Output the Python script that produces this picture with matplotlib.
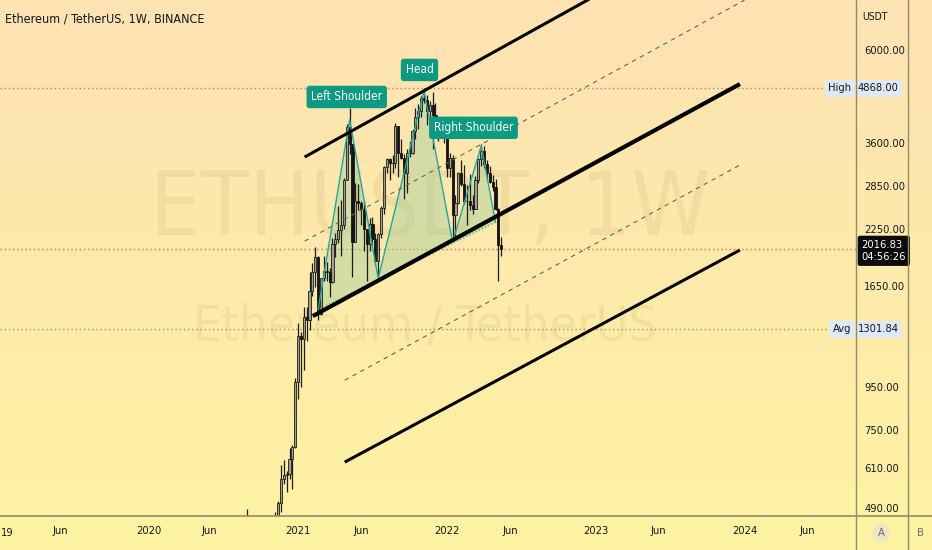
import matplotlib
matplotlib.use("Agg")
import matplotlib.pyplot as plt
import matplotlib.dates as mdates
import numpy as np
import pandas as pd
from matplotlib import font_manager
from matplotlib.lines import Line2D
from matplotlib.ticker import NullLocator
from matplotlib.transforms import blended_transform_factory

# narrow font if one is installed, else Liberation Sans
narrow = None
for f in font_manager.fontManager.ttflist:
    if "condensed" in str(f.stretch).lower() or "narrow" in f.name.lower() or "condensed" in f.name.lower():
        narrow = f
        break
if narrow is not None:
    plt.rcParams["font.family"] = [narrow.name, "DejaVu Sans"]
    plt.rcParams["font.stretch"] = narrow.stretch
    FS = 1.0
else:
    plt.rcParams["font.family"] = ["Liberation Sans", "DejaVu Sans"]
    FS = 0.92

# weekly ETH/USDT candles (week starts on Monday)
first_week = "2020-08-03"
opens = [389, 395, 433, 391, 428, 353, 365, 385, 355, 346, 370, 367, 406, 385, 464, 461, 505, 575, 586, 590, 640, 685,
         975, 1255, 1235, 1390, 1370, 1610, 1780, 1930, 1415, 1725, 1795, 1780, 1690, 2080, 2140, 2240, 2300, 2950,
         3930, 3580, 2100, 2630, 2600, 2510, 2250, 2080, 2320, 2140, 1890, 2190, 2530, 3160, 3310, 3240, 3230, 3950,
         3410, 3330, 3060, 3410, 3420, 3850, 4170, 4290, 4620, 4570, 4290, 4440, 4200, 4130, 3920, 4050,
         3830, 3150, 3330, 2440, 2600, 3070, 2880, 2630, 2620, 2570, 2520, 2950, 3300, 3450, 3220, 3060, 2920,
         2830, 2520, 2060]
highs = [415, 446, 465, 440, 488, 388, 395, 392, 365, 375, 395, 420, 416, 470, 480, 510, 620, 636, 600, 680, 690, 1000,
         1350, 1280, 1470, 1470, 1780, 1870, 2040, 1950, 1660, 1950, 1880, 1820, 2150, 2200, 2550, 2640, 2980, 4000,
         4370, 3590, 2900, 2890, 2620, 2630, 2250, 2400, 2410, 2200, 2200, 2550, 3180, 3330, 3330, 3370, 4030, 3970,
         3680, 3400, 3500, 3650, 3900, 4380, 4460, 4670, 4868, 4700, 4550, 4780, 4480, 4140, 4130, 4130,
         3880, 3410, 3370, 2720, 3080, 3280, 3200, 2860, 3050, 2720, 3020, 3320, 3580, 3550, 3290, 3190,
         3030, 2960, 2530, 2160]
lows = [360, 376, 373, 380, 308, 330, 360, 310, 335, 333, 360, 360, 370, 375, 440, 440, 480, 560, 535, 575, 545, 680,
        890, 950, 1040, 1220, 1300, 1560, 1640, 1370, 1410, 1700, 1700, 1550, 1680, 1930, 2090, 1950, 2250, 2950,
        3400, 1730, 2150, 2500, 2300, 2000, 1700, 2000, 2050, 1850, 1720, 2150, 2450, 3060, 2950, 3060, 3150, 3000,
        3300, 2650, 2740, 3340, 3400, 3680, 3900, 4150, 4500, 3980, 3930, 3500, 3900, 3640, 3890, 3600,
        3000, 3000, 2160, 2170, 2580, 2850, 2580, 2300, 2500, 2450, 2510, 2900, 3180, 3150, 2950, 2900,
        2770, 2500, 1700, 1950]
closes = [395, 433, 391, 428, 353, 365, 385, 355, 346, 370, 367, 406, 385, 464, 461, 505, 575, 586, 590, 640, 685, 975,
          1255, 1235, 1390, 1370, 1610, 1780, 1930, 1415, 1725, 1795, 1780, 1690, 2080, 2140, 2240, 2300, 2950, 3930,
          3580, 2100, 2630, 2600, 2510, 2250, 2080, 2320, 2140, 1890, 2190, 2530, 3160, 3310, 3240, 3230, 3950, 3410,
          3330, 3060, 3410, 3420, 3850, 4170, 4290, 4620, 4570, 4290, 4440, 4200, 4130, 3920, 4050, 3830,
          3150, 3330, 2440, 2600, 3070, 2880, 2630, 2620, 2570, 2520, 2950, 3300, 3450, 3220, 3060, 2920,
          2830, 2520, 2060, 2016.83]

# head and shoulders pattern points
hs_dates = ["2021-02-22", "2021-05-10", "2021-07-19", "2021-11-08", "2022-01-17", "2022-03-28", "2022-05-02"]
hs_prices = [1450, 4100, 1720, 4800, 2100, 3550, 2340]
hs_labels = [("Left Shoulder", "2021-05-03", 4640), ("Head", "2021-10-28", 5380), ("Right Shoulder", "2022-03-09", 3920)]

# channel lines: start date, start price, end date, end price, style, width
channel_lines = [
    ("2021-01-20", 3341, "2024-01-01", 12690, "solid", 2.2),
    ("2021-01-20", 2110, "2024-01-01", 7880, "dash", 0.8),
    ("2021-02-09", 1400, "2023-12-21", 4980, "solid", 3.0),
    ("2021-04-28", 986, "2023-12-21", 3198, "dash", 0.8),
    ("2021-04-28", 630, "2023-12-21", 2009, "solid", 2.2),
]

price_ticks = [6000, 3600, 2850, 2250, 1650, 950, 750, 610, 490]
high_price = 4868.00
avg_price = 1301.84
last_price = 2016.83
countdown = "04:56:26"

time_ticks = ["2019-06-03", "2020-01-06", "2020-06-01", "2021-01-04", "2021-06-07",
              "2022-01-03", "2022-06-06", "2023-01-02", "2023-06-05", "2024-01-01", "2024-06-03"]
time_labels = ["Jun", "2020", "Jun", "2021", "Jun", "2022", "Jun", "2023", "Jun", "2024", "Jun"]

W, H = 932, 550
fig = plt.figure(figsize=(W / 100, H / 100), dpi=100)

# background gradient
bg = fig.add_axes([0, 0, 1, 1], zorder=0)
top = np.array([253, 226, 179]) / 255
bottom = np.array([254, 243, 162]) / 255
t = np.linspace(0, 1, 256)[:, None]
grad = (top[None, :] * (1 - t) + bottom[None, :] * t)[:, None, :]
bg.imshow(grad, aspect="auto", extent=[0, 1, 0, 1])
bg.axis("off")

ax = fig.add_axes([0, 34 / H, 856 / W, 516 / H], zorder=1)
ax.set_facecolor("none")
ax.set_yscale("log")

base = mdates.date2num(pd.Timestamp("2020-01-01"))
ax.set_xlim(base - 360.4, base + 1734.0)
ax.set_ylim(469.2, 7886)

# watermarks
ax.text(0.502, 0.593, "ETHUSDT, 1W", transform=ax.transAxes, ha="center", va="center",
        fontsize=64 * FS if narrow is not None else 56, color="#8a6a30", alpha=0.09, zorder=1)
ax.text(0.497, 0.366, "Ethereum / TetherUS", transform=ax.transAxes, ha="center", va="center",
        fontsize=36 * FS if narrow is not None else 31, color="#8a6a30", alpha=0.09, zorder=1)

# horizontal price lines
ax.axhline(high_price, xmax=830 / 856, color="#c9834f", lw=1, ls=(0, (1, 2)), zorder=2)
ax.axhline(avg_price, xmax=830 / 856, color="#a88a68", lw=1, ls=(0, (1, 2)), zorder=2)
ax.axhline(last_price, color="#e06a55", lw=1, ls=(0, (1, 2)), zorder=2)

# head and shoulders
hx = mdates.date2num(pd.to_datetime(hs_dates))
ax.fill(hx, hs_prices, facecolor="#9ccc9c", alpha=0.42, edgecolor="none", zorder=2)
ax.plot(hx, hs_prices, color="#26a69a", lw=1, zorder=4)
ax.plot([hx[-1], hx[0]], [hs_prices[-1], hs_prices[0]], color="#4caf80", lw=1, ls=(0, (1, 1.5)), zorder=4)

# candles
wx = mdates.date2num(pd.date_range(first_week, periods=len(opens), freq="7D"))
o = np.array(opens, float)
h = np.array(highs, float)
l = np.array(lows, float)
c = np.array(closes, float)
up = c >= o
ax.vlines(wx, l, h, color="#1c1c1c", lw=0.9, zorder=3)
ax.bar(wx[up], (c - o)[up], bottom=o[up], width=5.2, color="#a39e8e", edgecolor="#1c1c1c", lw=0.6, zorder=3)
ax.bar(wx[~up], (o - c)[~up], bottom=c[~up], width=5.2, color="#141414", edgecolor="#141414", lw=0.6, zorder=3)

# channels
for d0, p0, d1, p1, style, lw in channel_lines:
    xs = mdates.date2num(pd.to_datetime([d0, d1]))
    if style == "solid":
        ax.plot(xs, [p0, p1], color="black", lw=lw, solid_capstyle="butt", zorder=5)
    else:
        ax.plot(xs, [p0, p1], color="#6e6250", lw=lw, ls=(0, (4, 4)), zorder=5)

for text, d, p in hs_labels:
    ax.text(mdates.date2num(pd.Timestamp(d)), p, text, ha="center", va="center", fontsize=8.5 * FS,
            color="white", zorder=6,
            bbox=dict(boxstyle="round,pad=0.4,rounding_size=0.25", fc="#0c9a82", ec="none"))

# axes styling
for s in ax.spines.values():
    s.set_visible(False)
ax.yaxis.tick_right()
ax.yaxis.set_minor_locator(NullLocator())
ax.set_yticks(price_ticks)
ax.set_yticklabels([f"{v:.2f}" for v in price_ticks])
ax.tick_params(axis="y", length=0, pad=6, labelsize=8 * FS, labelcolor="#131722")
ax.set_xticks(mdates.date2num(pd.to_datetime(time_ticks)))
ax.set_xticklabels(time_labels)
ax.tick_params(axis="x", length=0, pad=7, labelsize=8 * FS, labelcolor="#131722")

trans = blended_transform_factory(ax.transAxes, ax.transData)
box = dict(boxstyle="square,pad=0.3", fc="#dfe9f4", ec="none")
for label, value in [("High", high_price), ("Avg", avg_price)]:
    ax.text(1 + 2 / 856, value, f"{value:.2f}", transform=trans, ha="left", va="center",
            fontsize=8 * FS, color="#131722", bbox=box, clip_on=False, zorder=7)
    ax.text(851 / 856, value, label, transform=trans, ha="right", va="center",
            fontsize=8 * FS, color="#131722", bbox=box, clip_on=False, zorder=7)
ax.annotate(f"{last_price:.2f}\n{countdown}", xy=(1, last_price), xycoords=("axes fraction", "data"),
            xytext=(4, 7), textcoords="offset points", ha="left", va="top", fontsize=8 * FS,
            color="white", linespacing=1.3, annotation_clip=False, zorder=7,
            bbox=dict(boxstyle="round,pad=0.35,rounding_size=0.2", fc="#0b0b0b", ec="none"))

# frame lines of the price and time scales
line_c = "#958b68"
fig.add_artist(Line2D([856 / W, 856 / W], [0, 1], color=line_c, lw=1, zorder=8))
fig.add_artist(Line2D([908 / W, 908 / W], [0, 1], color=line_c, lw=1, zorder=8))
fig.add_artist(Line2D([0, 1], [34 / H, 34 / H], color=line_c, lw=1.2, zorder=8))

fig.text(5 / W, 1 - 19 / H, "Ethereum / TetherUS, 1W, BINANCE", ha="left", va="center",
         fontsize=9 * FS, color="#131722")
fig.text(1 / W, 1 - 533 / H, "19", ha="left", va="center", fontsize=8 * FS, color="#131722")
fig.text(862 / W, 1 - 17 / H, "USDT", ha="left", va="center", fontsize=7.5 * FS, color="#131722")
fig.text(881 / W, 1 - 533 / H, "A", ha="center", va="center", fontsize=8 * FS, color="#6a6a6a",
         bbox=dict(boxstyle="circle,pad=0.35", fc="#ece6c6", ec="none"))
fig.text(920 / W, 1 - 533 / H, "B", ha="center", va="center", fontsize=8 * FS, color="#6a6a6a")

fig.savefig("out.png", dpi=100)
plt.close(fig)
